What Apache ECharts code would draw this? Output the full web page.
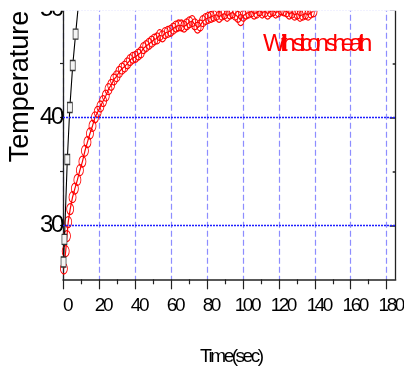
<!DOCTYPE html>
<html>
<head>
<meta charset="utf-8">
<script src="https://cdn.jsdelivr.net/npm/echarts@6/dist/echarts.min.js"></script>
<style>
  html, body { margin: 0; padding: 0; background: #fff; }
  #chart { width: 404px; height: 367px; }
</style>
</head>
<body>
<div id="chart"></div>
<script>
// Heating curves: bare probe (black squares) and probe with silicon sheath (red circles).
const bareTime  = [0.3, 0.8, 2.4, 3.8, 5.4, 7.0, 9.2];
const bareTemp  = [26.6, 28.7, 36.1, 40.9, 44.8, 47.7, 51.5];

const sheathTime = [
  0.5, 1.5, 2.2, 2.9, 4.0, 5.3, 6.6, 8.0, 9.4, 10.8,
  12.2, 13.6, 15.0, 16.4, 17.8, 19.3, 20.8, 22.3, 23.8, 25.3,
  26.8, 28.3, 29.8, 31.3, 32.8, 34.3, 35.8, 37.3, 38.8, 40.3,
  41.8, 43.3, 44.8, 46.3, 47.8, 49.3, 50.8, 52.3, 53.8, 55.3,
  56.8, 58.3, 59.8, 61.3, 62.8, 64.3, 65.8, 67.3, 68.8, 70.3,
  71.8, 73.3, 74.8, 76.3, 77.8, 79.3, 80.8, 82.3, 83.8, 85.3,
  86.8, 88.3, 89.8, 91.3, 92.8, 94.3, 95.8, 97.3, 98.8, 100.3,
  101.8, 103.3, 104.8, 106.3, 107.8, 109.3, 110.8, 112.3, 113.8, 115.3,
  116.8, 118.3, 119.8, 121.3, 122.8, 124.3, 125.8, 127.3, 128.8, 130.3,
  131.8, 133.3, 134.8, 136.3, 137.8, 139.3
];
const sheathTemp = [
  26.0, 27.6, 29.0, 30.3, 31.5, 32.6, 33.4, 34.2, 35.1, 35.9,
  36.9, 37.7, 38.5, 39.2, 40.0, 40.5, 41.0, 41.5, 42.0, 42.6,
  43.0, 43.5, 43.8, 44.2, 44.5, 44.7, 45.0, 45.3, 45.5, 45.6,
  45.8, 46.0, 46.4, 46.6, 46.8, 47.0, 47.2, 47.3, 47.6, 47.5,
  47.8, 47.9, 48.0, 48.2, 48.4, 48.5, 48.5, 48.4, 48.6, 48.8,
  48.9, 48.6, 48.3, 48.5, 48.9, 49.1, 49.2, 49.3, 49.4, 49.5,
  49.3, 49.5, 49.6, 49.4, 49.6, 49.7, 49.5, 49.3, 49.0, 49.4,
  49.6, 49.7, 49.8, 49.6, 49.7, 49.9, 49.7, 49.8, 49.6, 49.8,
  49.9, 49.7, 49.8, 50.0, 49.9, 49.8, 49.6, 49.7, 49.5, 49.6,
  49.4, 49.5, 49.6, 49.5, 49.7, 49.8
];

// Axis ticks and labels
const timeTicks   = [0, 20, 40, 60, 80, 100, 120, 140, 160, 180];
const timeMinor   = [10, 30, 50, 70, 90, 110, 130, 150, 170];
const tempTicks   = [30, 35, 40, 45, 50];
const tempLabels  = [30, 40, 50];
const tempMinor   = [35, 45];
const gridTemps   = [30, 40, 50];

const xTitle = 'Time(sec)';
const yTitle = 'Temperature';
const noteText = 'With silicon sheath';

// Tight tracking: a family tagged 'track-N' gets a letter spacing of -N/100 em.
(function () {
  const proto = CanvasRenderingContext2D.prototype;
  const fill = proto.fillText, stroke = proto.strokeText;
  function track(ctx) {
    if (!('letterSpacing' in ctx)) return;
    const f = ctx.font || '';
    const m = /track-(\d+)/.exec(f);
    if (m) {
      const s = /([\d.]+)px/.exec(f);
      const size = s ? parseFloat(s[1]) : 12;
      ctx.letterSpacing = (-size * parseInt(m[1], 10) / 100).toFixed(2) + 'px';
    } else {
      ctx.letterSpacing = '0px';
    }
  }
  proto.fillText = function () { track(this); return fill.apply(this, arguments); };
  proto.strokeText = function () { track(this); return stroke.apply(this, arguments); };
})();

const fam = n => "'track-" + n + "', 'Liberation Sans', Arial, sans-serif";
const AX = '#222';

const zip = (a, b) => a.map((v, i) => [v, b[i]]);

const chart = echarts.init(document.getElementById('chart'), null, { renderer: 'canvas' });

const tempAxisBase = { type: 'value', min: 25, max: 52, interval: 5, splitLine: { show: false } };
const timeAxisBase = { type: 'value', min: 0, max: 185, interval: 20 };

chart.setOption({
  animation: false,
  backgroundColor: '#fff',
  grid: { left: 63, right: 8.3, top: -12.3, bottom: 87.7, containLabel: false, outerBoundsMode: 'none' },
  xAxis: [
    Object.assign({}, timeAxisBase, {
      position: 'bottom',
      axisLine: { show: true, onZero: false, lineStyle: { color: AX, width: 1.5 } },
      axisTick: { show: true, customValues: timeTicks, length: 10, lineStyle: { color: AX, width: 1.2 } },
      axisLabel: { customValues: timeTicks, margin: 17, fontSize: 19, fontFamily: fam(13), color: '#000', padding: [0, 0, 0, 8] },
      splitLine: { show: true, lineStyle: { type: [6, 3], color: 'rgba(80,80,255,0.65)', width: 1.2 } },
      name: xTitle, nameLocation: 'middle', nameGap: 68,
      nameTextStyle: { fontSize: 19, fontFamily: fam(13), color: '#000', padding: [0, 0, 0, 3] }
    }),
    Object.assign({}, timeAxisBase, {
      position: 'bottom',
      axisLine: { show: false, onZero: false },
      axisTick: { show: true, customValues: timeMinor, length: 5, lineStyle: { color: AX, width: 1.2 } },
      axisLabel: { show: false },
      splitLine: { show: false }
    })
  ],
  yAxis: [
    Object.assign({}, tempAxisBase, {
      position: 'left',
      axisLine: { show: true, onZero: false, lineStyle: { color: AX, width: 1.3 } },
      axisTick: { show: true, customValues: tempTicks, length: 3, lineStyle: { color: AX, width: 1.2 } },
      axisLabel: { customValues: tempLabels, margin: 1, fontSize: 24, fontFamily: fam(10), color: '#000' }
    }),
    Object.assign({}, tempAxisBase, {
      position: 'right',
      axisLine: { show: true, onZero: false, lineStyle: { color: AX, width: 1.3 } },
      axisTick: { show: true, inside: true, customValues: tempLabels, length: 6, lineStyle: { color: AX, width: 1.5 } },
      axisLabel: { show: false }
    }),
    Object.assign({}, tempAxisBase, {
      position: 'right',
      axisLine: { show: false, onZero: false },
      axisTick: { show: true, inside: true, customValues: tempMinor, length: 3, lineStyle: { color: AX, width: 1.5 } },
      axisLabel: { show: false }
    })
  ],
  series: [
    {
      type: 'line',
      name: noteText,
      xAxisIndex: 0, yAxisIndex: 0,
      data: zip(sheathTime, sheathTemp),
      symbol: 'circle',
      symbolSize: [7, 11],
      itemStyle: { color: 'rgba(255,255,255,0)', borderColor: '#ff0000', borderWidth: 1 },
      lineStyle: { color: '#ff0000', width: 1.2 },
      markLine: {
        silent: true,
        symbol: ['none', 'none'],
        label: { show: false },
        lineStyle: { type: [2, 1], color: '#1f1fff', width: 1.3 },
        data: gridTemps.map(v => ({ yAxis: v }))
      },
      z: 3
    },
    {
      type: 'line',
      name: 'bare',
      xAxisIndex: 0, yAxisIndex: 0,
      data: zip(bareTime, bareTemp),
      symbol: 'rect',
      symbolSize: [5, 10],
      itemStyle: { color: '#f4f4f4', borderColor: '#333', borderWidth: 1 },
      lineStyle: { color: '#000', width: 1.1 },
      z: 4
    }
  ],
  graphic: [
    {
      type: 'text',
      x: 21, y: 86.5,
      rotation: Math.PI / 2,
      z: 10,
      style: {
        text: yTitle, fill: '#000', fontSize: 27,
        fontFamily: "'Liberation Sans', Arial, sans-serif",
        align: 'center', verticalAlign: 'middle'
      }
    },
    {
      type: 'text',
      x: 263, y: 44,
      z: 10,
      style: {
        text: noteText, fill: '#ff0000', fontSize: 24,
        fontFamily: fam(21),
        align: 'left', verticalAlign: 'middle'
      }
    },
    {
      type: 'rect',
      x: 0, y: 0,
      z: 100,
      shape: { x: 0, y: 0, width: 404, height: 10.7 },
      style: { fill: '#fff' }
    }
  ]
});
</script>
</body>
</html>
